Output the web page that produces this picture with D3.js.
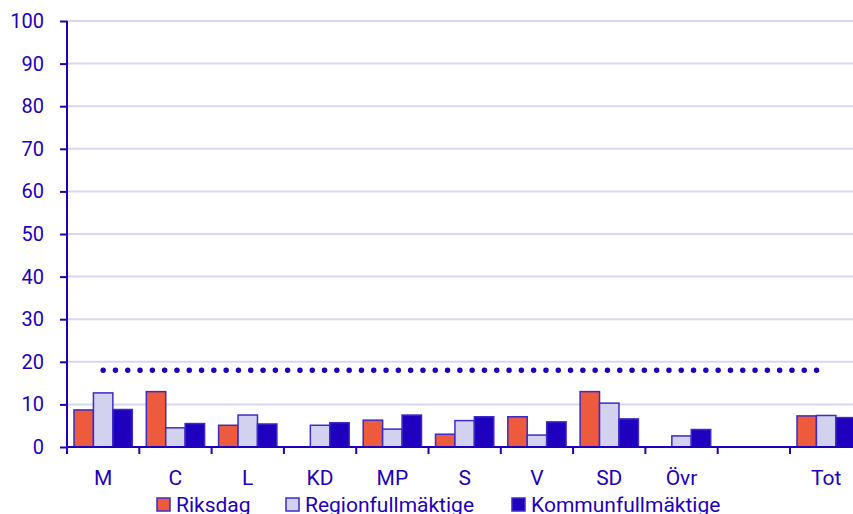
<!DOCTYPE html>
<html>
<head>
<meta charset="utf-8">
<script src="https://cdn.jsdelivr.net/npm/d3@7"></script>
<style>
  body { margin: 0; background: #fff; }
  text { font-family: Roboto, sans-serif; fill: #1e00be; }
</style>
</head>
<body>
<script>
var width = 853,
  height = 514;

var categories = ["M", "C", "L", "KD", "MP", "S", "V", "SD", "Övr", "", "Tot"];
var seriesNames = ["Riksdag", "Regionfullmäktige", "Kommunfullmäktige"];
var riksdag = [8.7, 13.0, 5.1, null, 6.3, 3.0, 7.1, 13.0, null, null, 7.3];
var region = [12.7, 4.5, 7.5, 5.1, 4.2, 6.2, 2.8, 10.3, 2.6, null, 7.4];
var kommun = [8.8, 5.5, 5.4, 5.7, 7.5, 7.1, 5.9, 6.6, 4.1, null, 6.9];
var refLevel = 18;
var yTicks = [0, 10, 20, 30, 40, 50, 60, 70, 80, 90, 100];
var colors = ["#ee5a3c", "#d2d2ee", "#1e00be"];

var series = [riksdag, region, kommun];

var svg = d3.select("body")
  .append("svg")
  .attr("width", width)
  .attr("height", height);

var plotLeft = 67, plotTop = 21, plotBottom = 447;

//----------scales----------
var x = d3.scaleBand()
  .domain(d3.range(categories.length))
  .range([plotLeft, plotLeft + 72.3 * categories.length])
  .paddingInner(0)
  .paddingOuter(0);

var x1 = d3.scaleBand()
  .domain(d3.range(series.length))
  .range([0, x.bandwidth()])
  .paddingOuter(0.36)
  .paddingInner(0);

var y = d3.scaleLinear()
  .domain([0, 100])
  .range([plotBottom, plotTop]);

//----------grid----------
svg.append("g")
  .selectAll("line")
  .data(yTicks.filter(function (d) { return d > 0; }))
  .enter()
  .append("line")
  .attr("x1", plotLeft)
  .attr("x2", width)
  .attr("y1", function (d) { return y(d); })
  .attr("y2", function (d) { return y(d); })
  .attr("stroke", "#d7d7f0")
  .attr("stroke-width", 2);

//----------bars----------
series.forEach(function (vals, si) {
  svg.append("g")
    .selectAll("rect")
    .data(vals.map(function (v, i) { return { i: i, v: v }; })
      .filter(function (d) { return d.v != null; }))
    .enter()
    .append("rect")
    .attr("x", function (d) { return x(d.i) + x1(si); })
    .attr("width", x1.bandwidth())
    .attr("y", function (d) { return y(d.v); })
    .attr("height", function (d) { return y(0) - y(d.v); })
    .attr("fill", colors[si])
    .attr("stroke", "#3d2bc8")
    .attr("stroke-width", 1.5);
});

//----------reference line----------
svg.append("line")
  .attr("x1", x(0) + x.bandwidth() / 2)
  .attr("x2", x(categories.length - 1) + x.bandwidth() / 2 - 5)
  .attr("y1", y(refLevel))
  .attr("y2", y(refLevel))
  .attr("stroke", "#1e00be")
  .attr("stroke-width", 5.5)
  .attr("stroke-linecap", "round")
  .attr("stroke-dasharray", "0,12.3");

//----------Y axis----------
var yAxis = d3.axisLeft(y)
  .tickValues(yTicks)
  .tickSize(7)
  .tickPadding(16);

var gy = svg.append("g")
  .attr("transform", "translate(" + plotLeft + ",0)")
  .call(yAxis);
gy.selectAll("path, line").attr("stroke", "#1e00be").attr("stroke-width", 2);
gy.select(".domain").attr("d", "M0," + plotTop + "V" + plotBottom);
gy.selectAll("text").style("font-size", "20px").style("fill", "#1e00be").style("font-family", "Roboto, sans-serif");

//----------X axis----------
svg.append("line")
  .attr("x1", plotLeft)
  .attr("x2", width)
  .attr("y1", plotBottom)
  .attr("y2", plotBottom)
  .attr("stroke", "#1e00be")
  .attr("stroke-width", 2);

svg.append("g")
  .selectAll("line")
  .data(d3.range(categories.length))
  .enter()
  .append("line")
  .attr("x1", function (d) { return x(d); })
  .attr("x2", function (d) { return x(d); })
  .attr("y1", plotBottom)
  .attr("y2", plotBottom + 7)
  .attr("stroke", "#1e00be")
  .attr("stroke-width", 2);

svg.append("g")
  .selectAll("text")
  .data(categories)
  .enter()
  .append("text")
  .attr("x", function (d, i) { return x(i) + x.bandwidth() / 2; })
  .attr("y", 485)
  .attr("text-anchor", "middle")
  .style("font-size", "21px")
  .text(function (d) { return d; });

//----------legend----------
var legendX = [157, 286, 512];
var legend = svg.append("g")
  .selectAll("g")
  .data(seriesNames)
  .enter()
  .append("g")
  .attr("transform", function (d, i) { return "translate(" + legendX[i] + ",498)"; });

legend.append("rect")
  .attr("width", 13)
  .attr("height", 13)
  .attr("fill", function (d, i) { return colors[i]; })
  .attr("stroke", "#3d2bc8")
  .attr("stroke-width", 1.5);

legend.append("text")
  .attr("x", 19)
  .attr("y", 14)
  .style("font-size", "21px")
  .text(function (d) { return d; });
</script>
</body>
</html>
